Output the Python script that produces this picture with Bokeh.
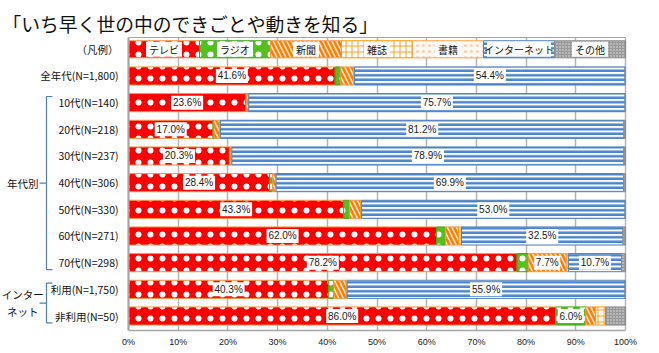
from bokeh.plotting import figure
from bokeh.models import Range1d, FixedTicker, Span, ColumnDataSource, LinearAxis
from bokeh.core.properties import value
from bokeh.embed import file_html
from bokeh.resources import INLINE

title_text = "「いち早く世の中のできごとや動きを知る」"
media = ["テレビ", "ラジオ", "新聞", "雑誌", "書籍", "インターネット", "その他"]
rows = ["全年代(N=1,800)", "10代(N=140)", "20代(N=218)", "30代(N=237)", "40代(N=306)",
        "50代(N=330)", "60代(N=271)", "70代(N=298)", "利用(N=1,750)", "非利用(N=50)"]
tv       = [41.6, 23.6, 17.0, 20.3, 28.4, 43.3, 62.0, 78.2, 40.3, 86.0]
radio    = [1.1, 0.1, 0.2, 0.1, 0.6, 1.2, 1.8, 2.2, 1.0, 6.0]
paper    = [2.6, 0.4, 1.1, 0.3, 0.7, 2.2, 2.6, 7.7, 2.5, 2.0]
magazine = [0.1, 0.1, 0.1, 0.0, 0.0, 0.1, 0.6, 0.1, 0.1, 2.0]
book     = [0.1, 0.0, 0.1, 0.1, 0.0, 0.1, 0.0, 0.3, 0.1, 0.0]
internet = [54.4, 75.7, 81.2, 78.9, 69.9, 53.0, 32.5, 10.7, 55.9, 0.0]
other    = [0.1, 0.1, 0.3, 0.3, 0.4, 0.1, 0.5, 0.8, 0.1, 4.0]
groups = [(["年代別"], 1, 7), (["インター", "ネット"], 8, 9)]
x_ticks = [0, 10, 20, 30, 40, 50, 60, 70, 80, 90, 100]

series = [tv, radio, paper, magazine, book, internet, other]

styles = [
    dict(fill_color="#FF0000", line_color="#F79646", hatch_pattern="dot", hatch_color="white", hatch_scale=12, hatch_weight=1),
    dict(fill_color="#4FC21F", line_color="#3BA518", hatch_pattern="dot", hatch_color="white", hatch_scale=12, hatch_weight=1),
    dict(fill_color="#FDE3CC", line_color="#F79646", hatch_pattern="left_diagonal_line", hatch_color="#FF7F00", hatch_scale=9, hatch_weight=2.5),
    dict(fill_color="white", line_color="#FF9900", hatch_pattern="cross", hatch_color="#FFA020", hatch_scale=6, hatch_weight=1),
    dict(fill_color="#FFF8F2", line_color="#FFA040", hatch_pattern="dot", hatch_color="#F8CDB0", hatch_scale=6, hatch_weight=1),
    dict(fill_color="white", line_color="#4F81BD", hatch_pattern="horizontal_line", hatch_color="#4A86CF", hatch_scale=4.5, hatch_weight=2.5),
    dict(fill_color="#999999", line_color="#8C8C8C", hatch_pattern="dot", hatch_color="#E6E6E6", hatch_scale=3, hatch_weight=0.5),
]

# pixel geometry
PX0, PX100, FR_RIGHT = 128.0, 625.0, 640.0
s = (PX100 - PX0) / 100.0
X0 = -PX0 / s
X1 = X0 + FR_RIGHT / s
FR_TOP, FR_BOT = 37.0, 330.0
row_px = 26.67
legend_px = 48.8
Y_TOP = -(legend_px - FR_TOP) / row_px
Y_BOT = Y_TOP + (FR_BOT - FR_TOP) / row_px

p = figure(width=659, height=353, output_backend="svg", toolbar_location=None,
           x_range=Range1d(X0, X1), y_range=Range1d(Y_BOT, Y_TOP),
           y_axis_location=None, min_border_left=0, min_border_right=int(659 - FR_RIGHT),
           min_border_top=int(FR_TOP), min_border_bottom=int(353 - FR_BOT),
           title=title_text)
p.outline_line_color = None
p.background_fill_color = "white"
p.border_fill_color = "white"
p.title.text_font = "Noto Sans CJK JP"
p.title.text_font_size = "18.8px"
p.title.text_font_style = "normal"
p.title.text_color = "#111111"
p.title.align = "left"
p.title.offset = 2
p.title.standoff = 2

p.ygrid.visible = False
p.xgrid.ticker = FixedTicker(ticks=x_ticks)
p.xgrid.grid_line_color = "#B4B4B4"
p.xgrid.grid_line_width = 1.5

xa = p.xaxis[0]
xa.ticker = FixedTicker(ticks=x_ticks)
xa.bounds = (0, 100)
xa.major_label_overrides = {t: f"{t}%" for t in x_ticks}
xa.major_label_text_font = "Liberation Sans"
xa.major_label_text_font_size = "9px"
xa.major_label_text_color = "#1a1a1a"
xa.major_tick_out = 0
xa.major_tick_in = 0
xa.minor_tick_out = 0
xa.minor_tick_in = 0
xa.major_label_standoff = 6
xa.axis_line_color = "#A6A6A6"
xa.axis_line_width = 1.5

top_axis = LinearAxis(ticker=FixedTicker(ticks=[]), bounds=(0, 100),
                      major_tick_out=0, major_tick_in=0,
                      minor_tick_out=0, minor_tick_in=0, major_label_standoff=0,
                      axis_line_color="#A6A6A6", axis_line_width=1)
p.add_layout(top_axis, "above")

p.add_layout(Span(location=0, dimension="height", line_color="#A6A6A6", line_width=2))

n_rows = len(rows)
ys = [i + 1 for i in range(n_rows)]
cum = [0.0] * n_rows
label_x, label_y, label_t, label_w = [], [], [], []
for k, vals in enumerate(series):
    left, right, yy = [], [], []
    for i, v in enumerate(vals):
        if v > 0:
            left.append(cum[i])
            right.append(cum[i] + v)
            yy.append(ys[i])
            if v >= 5:
                t = f"{v:.1f}%"
                label_x.append(cum[i] + v / 2)
                label_y.append(ys[i])
                label_t.append(t)
                label_w.append(6 * len(t) + 2)
        cum[i] += v
    src = ColumnDataSource(dict(left=left, right=right, y=yy))
    p.hbar(y="y", left="left", right="right", height=0.68, source=src, line_width=1, **styles[k])

# legend row
n_m = len(media)
seg = 100.0 / n_m
for k, name in enumerate(media):
    src = ColumnDataSource(dict(left=[k * seg], right=[(k + 1) * seg], y=[0]))
    p.hbar(y="y", left="left", right="right", height=0.64, source=src, line_width=1, **styles[k])
leg_x = [(k + 0.5) * seg for k in range(n_m)]
leg_w = [min(64, 10 * len(m) + 6) for m in media]
p.rect(x=leg_x, y=[0] * n_m, width=leg_w, height=15, width_units="screen", height_units="screen",
       fill_color="white", line_color=None)
p.text(x=leg_x, y=[0] * n_m, text=media, text_align="center", text_baseline="middle",
       text_font=value("Noto Sans CJK JP"), text_font_size="10px", text_color="#111111")
p.text(x=[-2], y=[0], text=["（凡例）"], text_align="right", text_baseline="middle",
       text_font=value("Noto Sans CJK JP"), text_font_size="10.5px", text_color="#111111")

# value labels
p.rect(x=label_x, y=label_y, width=label_w, height=14, width_units="screen", height_units="screen",
       fill_color="white", line_color=None)
p.text(x=label_x, y=label_y, text=label_t, text_align="center", text_baseline="middle",
       text_font=value("Liberation Sans"), text_font_size="10px", text_color="#1a1a1a")

# row labels
p.text(x=[-2] * n_rows, y=ys, text=rows, text_align="right", text_baseline="middle",
       text_font=value("Noto Sans CJK JP"), text_font_size="10.5px", text_color="#111111")

# group brackets and labels
bx, by = [], []
gx, gy, gt = [], [], []
bx_line = -16.5
for lines, i0, i1 in groups:
    yt = ys[i0] - 0.23
    yb = ys[i1] + 0.26
    ym = (yt + yb) / 2
    bx.append([bx_line + 1.2, bx_line, bx_line, bx_line + 1.2])
    by.append([yt, yt, yb, yb])
    bx.append([bx_line - 1.4, bx_line])
    by.append([ym, ym])
    nl = len(lines)
    for j, ln in enumerate(lines):
        gx.append(-21.3)
        gy.append(ym + (j - (nl - 1) / 2) * 0.62)
        gt.append(ln)
p.multi_line(xs=bx, ys=by, line_color="#4F81BD", line_width=1.2)
p.text(x=gx, y=gy, text=gt, text_align="center", text_baseline="middle",
       text_font=value("Noto Sans CJK JP"), text_font_size="10.5px", text_color="#111111")

open("out.html", "w").write(file_html(p, INLINE))
